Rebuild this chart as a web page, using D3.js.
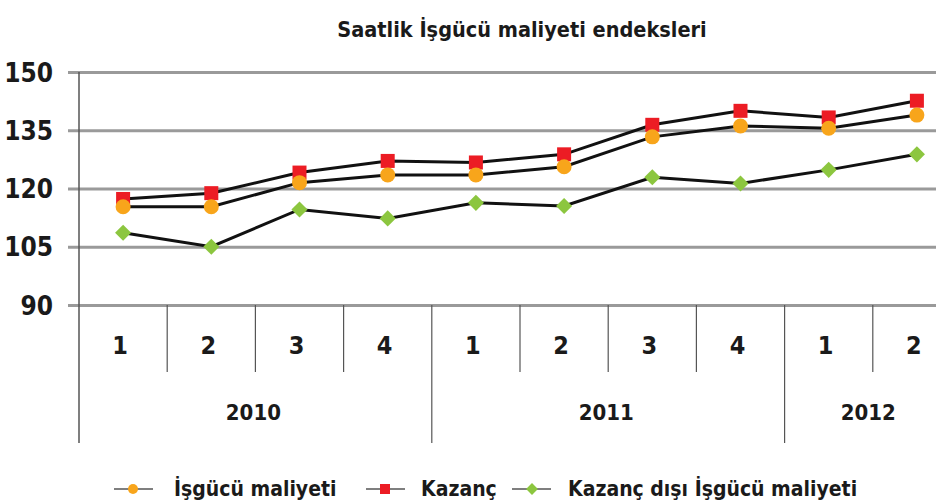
<!DOCTYPE html>
<html>
<head>
<meta charset="utf-8">
<script src="https://cdn.jsdelivr.net/npm/d3@7"></script>
<style>
  body { margin: 0; background: #fff; }
  text { font-family: "Liberation Sans Narrow", "DejaVu Sans Condensed", "Roboto", sans-serif; font-weight: bold; fill: #1a1a1a; }
</style>
</head>
<body>
<svg id="canvas" width="936" height="503"></svg>
<script>
const title = "Saatlik İşgücü maliyeti endeksleri";
const quarters = ["1", "2", "3", "4", "1", "2", "3", "4", "1", "2"];
const yearLabels = ["2010", "2011", "2012"];
const yearSpans = [4, 4, 2];
const yTicks = [90, 105, 120, 135, 150];

const seriesNames = ["İşgücü maliyeti", "Kazanç", "Kazanç dışı İşgücü maliyeti"];
const isgucu = [115.3, 115.3, 121.5, 123.5, 123.5, 125.6, 133.3, 136.1, 135.5, 138.9];
const kazanc = [117.3, 118.8, 124.1, 127.1, 126.7, 128.8, 136.4, 140.0, 138.3, 142.6];
const kazancDisi = [108.6, 105.0, 114.6, 112.3, 116.3, 115.5, 122.9, 121.3, 124.8, 128.8];

const canvas = d3.select("#canvas");
const plotLeft = 79, step = 88.2;
const plotTop = 72, plotBottom = 305;

const idx = d3.range(quarters.length);
const x = d3.scaleBand().domain(idx).range([plotLeft, plotLeft + step * quarters.length]);
const y = d3.scaleLinear().domain([90, 150]).range([plotBottom, plotTop]);

// title
canvas.append("text")
    .attr("x", 522).attr("y", 37)
    .attr("text-anchor", "middle")
    .style("font-size", "21.5px")
    .text(title);

// horizontal grid
const yAxis = canvas.append("g")
    .attr("transform", `translate(${plotLeft},0)`)
    .call(d3.axisLeft(y).tickValues(yTicks).tickSize(-(936 - plotLeft)).tickSizeOuter(0).tickPadding(26));
yAxis.select(".domain").remove();
yAxis.selectAll(".tick line")
    .attr("x1", -11)
    .attr("stroke", "#9a9a9a")
    .attr("stroke-width", 3);
yAxis.selectAll(".tick text")
    .style("font-size", "26px")
    .attr("dy", "0.35em");

// y axis line, running down through the category labels
canvas.append("line")
    .attr("x1", plotLeft).attr("x2", plotLeft)
    .attr("y1", plotTop).attr("y2", 443)
    .attr("stroke", "#555").attr("stroke-width", 1.5);

// quarter dividers
const yearEnds = d3.cumsum(yearSpans);
canvas.append("g").selectAll("line")
    .data(idx.slice(1))
    .join("line")
    .attr("x1", (d) => x(d)).attr("x2", (d) => x(d))
    .attr("y1", plotBottom).attr("y2", (d) => yearEnds.includes(d) ? 443 : 372)
    .attr("stroke", "#555").attr("stroke-width", 1.2);

// quarter labels
canvas.append("g").selectAll("text")
    .data(quarters)
    .join("text")
    .attr("x", (d, i) => x(i) + x.bandwidth() / 2 - 3)
    .attr("y", 345)
    .attr("dy", "0.35em")
    .attr("text-anchor", "middle")
    .style("font-size", "25px")
    .text((d) => d);

// year labels
const yearStarts = [0, ...yearEnds];
canvas.append("g").selectAll("text")
    .data(yearLabels)
    .join("text")
    .attr("x", (d, i) => {
        const a = x(yearStarts[i]);
        const b = i === yearLabels.length - 1 ? 936 : x(yearStarts[i + 1]);
        return (a + b) / 2 + (i === 2 ? 8 : -2);
    })
    .attr("y", 412)
    .attr("dy", "0.35em")
    .attr("text-anchor", "middle")
    .style("font-size", "22px")
    .text((d) => d);

// lines
const cx = (i) => x(i) + x.bandwidth() / 2;
const line = d3.line().x((d, i) => cx(i)).y((d) => y(d));
const allSeries = [kazanc, isgucu, kazancDisi];
canvas.append("g").selectAll("path")
    .data(allSeries)
    .join("path")
    .attr("d", line)
    .attr("fill", "none")
    .attr("stroke", "#111")
    .attr("stroke-width", 3);

const colors = { orange: "#f8a51b", red: "#ec1c24", green: "#8cc63f" };

// markers: red squares, orange circles, green diamonds
canvas.append("g").selectAll("rect")
    .data(kazanc)
    .join("rect")
    .attr("x", (d, i) => cx(i) - 7).attr("y", (d) => y(d) - 7)
    .attr("width", 14).attr("height", 14)
    .attr("fill", colors.red);

canvas.append("g").selectAll("circle")
    .data(isgucu)
    .join("circle")
    .attr("cx", (d, i) => cx(i)).attr("cy", (d) => y(d))
    .attr("r", 7.5)
    .attr("fill", colors.orange);

const diamond = d3.symbol().type(d3.symbolSquare).size(130);
canvas.append("g").selectAll("path")
    .data(kazancDisi)
    .join("path")
    .attr("d", diamond)
    .attr("transform", (d, i) => `translate(${cx(i)},${y(d)}) rotate(45)`)
    .attr("fill", colors.green);

// legend
const legendItems = [
    { name: seriesNames[0], color: colors.orange, shape: "circle", x: 114, tx: 174 },
    { name: seriesNames[1], color: colors.red, shape: "square", x: 366, tx: 421 },
    { name: seriesNames[2], color: colors.green, shape: "diamond", x: 512, tx: 568 }
];
const ly = 489;
const leg = canvas.append("g").selectAll("g")
    .data(legendItems)
    .join("g");
leg.append("line")
    .attr("x1", (d) => d.x).attr("x2", (d) => d.x + 39)
    .attr("y1", ly).attr("y2", ly)
    .attr("stroke", "#555").attr("stroke-width", 1.5);
leg.filter((d) => d.shape === "circle").append("circle")
    .attr("cx", (d) => d.x + 19).attr("cy", ly).attr("r", 5).attr("fill", (d) => d.color);
leg.filter((d) => d.shape === "square").append("rect")
    .attr("x", (d) => d.x + 14).attr("y", ly - 5).attr("width", 10).attr("height", 10).attr("fill", (d) => d.color);
leg.filter((d) => d.shape === "diamond").append("path")
    .attr("d", d3.symbol().type(d3.symbolSquare).size(70))
    .attr("transform", (d) => `translate(${d.x + 20},${ly}) rotate(45)`)
    .attr("fill", (d) => d.color);
leg.append("text")
    .attr("x", (d) => d.tx).attr("y", ly)
    .attr("dy", "0.35em")
    .style("font-size", "21px")
    .text((d) => d.name);
</script>
</body>
</html>
